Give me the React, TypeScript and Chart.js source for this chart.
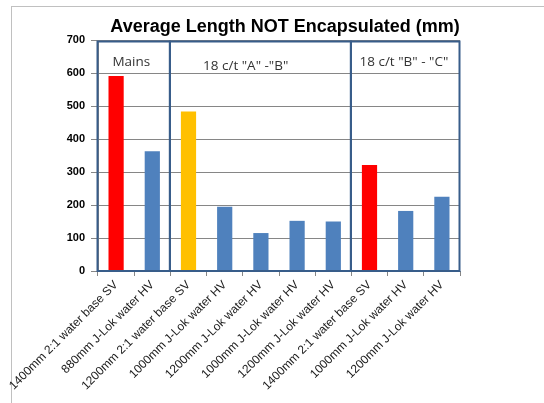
import React, { useEffect, useRef } from "react";
import { Chart, registerables } from "chart.js";
Chart.register(...registerables);

const chartTitle = "Average Length NOT Encapsulated (mm)";
const categories = [
  "1400mm 2:1 water base SV",
  "880mm J-Lok water HV",
  "1200mm 2:1 water base SV",
  "1000mm J-Lok water HV",
  "1200mm J-Lok water HV",
  "1000mm J-Lok water HV",
  "1200mm J-Lok water HV",
  "1400mm 2:1 water base SV",
  "1000mm J-Lok water HV",
  "1200mm J-Lok water HV",
];
const values = [591, 363, 483, 195, 115, 152, 150, 321, 182, 225];
const barColors = [
  "#FF0000", "#4F81BD", "#FFC000", "#4F81BD", "#4F81BD",
  "#4F81BD", "#4F81BD", "#FF0000", "#4F81BD", "#4F81BD",
];
const yMin = 0;
const yMax = 700;
const yStep = 100;
const groupLabels = ["Mains", "18 c/t \"A\" -\"B\"", "18 c/t \"B\" - \"C\""];
const groupFirst = [0, 2, 7];
const groupLast = [1, 6, 9];

const groupLabelAnchor = [
  { idx: 0.42, val: 633 },
  { idx: 3.58, val: 620 },
  { idx: 7.95, val: 633 },
];

const overlayPlugin = {
  id: "overlay",
  afterDatasetsDraw(chart: any) {
    const { ctx, scales, chartArea } = chart;
    const xs = scales.x;
    const ys = scales.y;
    const step = xs.getPixelForValue(1) - xs.getPixelForValue(0);
    ctx.save();
    ctx.strokeStyle = "#385D8A";
    ctx.lineWidth = 2;
    const top = chartArea.top + 1.5;
    const bottom = chartArea.bottom;
    for (let g = 0; g < groupFirst.length; g++) {
      const l = xs.getPixelForValue(groupFirst[g]) - step / 2 - 0.5;
      const r = xs.getPixelForValue(groupLast[g]) + step / 2 - 0.5;
      ctx.strokeRect(l, top, r - l, bottom - top);
    }
    ctx.fillStyle = "#333333";
    ctx.font = "13.5px 'Open Sans', 'Liberation Sans', sans-serif";
    ctx.textAlign = "center";
    ctx.textBaseline = "middle";
    groupLabels.forEach((t, i) => {
      const a = groupLabelAnchor[i];
      const x = xs.getPixelForValue(0) + a.idx * step;
      const y = ys.getPixelForValue(a.val);
      ctx.fillText(t, x, y);
    });
    ctx.restore();
  },
  afterDraw(chart: any) {
    const { ctx } = chart;
    ctx.save();
    ctx.fillStyle = "#000";
    ctx.font = "bold 18px 'Liberation Sans', Arial, sans-serif";
    ctx.textAlign = "center";
    ctx.textBaseline = "middle";
    ctx.fillText(chartTitle, 285, 27);
    ctx.restore();
  },
};

export default function App() {
  const ref = useRef<HTMLCanvasElement | null>(null);
  useEffect(() => {
    if (!ref.current) return;
    const chart = new Chart(ref.current, {
      type: "bar",
      data: {
        labels: categories,
        datasets: [
          {
            data: values,
            backgroundColor: barColors,
            barPercentage: 0.42,
            categoryPercentage: 1,
          },
        ],
      },
      options: {
        responsive: false,
        animation: false,
        devicePixelRatio: 1,
        layout: { padding: { left: 0, right: 84, top: 40, bottom: 0 } },
        plugins: {
          legend: { display: false },
          title: { display: false },
          tooltip: { enabled: false },
        },
        scales: {
          x: {
            grid: {
              display: true,
              drawOnChartArea: false,
              drawTicks: true,
              tickLength: 5,
              color: "#868686",
              offset: true,
            },
            border: { color: "#868686" },
            ticks: {
              minRotation: 45,
              maxRotation: 45,
              autoSkip: false,
              color: "#1a1a1a",
              padding: 2,
              font: { family: "'Liberation Sans', Arial, sans-serif", size: 12 },
            },
            afterFit: (s: any) => {
              s.height = 132;
            },
          },
          y: {
            min: yMin,
            max: yMax,
            ticks: {
              stepSize: yStep,
              color: "#000",
              padding: 6,
              font: { family: "'Liberation Sans', Arial, sans-serif", size: 11, weight: "bold" },
            },
            grid: { color: "#868686", tickLength: 7 },
            border: { color: "#868686" },
            afterFit: (s: any) => {
              s.width = 98;
            },
          },
        },
      },
      plugins: [overlayPlugin],
    });
    return () => chart.destroy();
  }, []);
  return (
    <div
      style={{
        position: "fixed",
        left: 0,
        top: 0,
        width: 544,
        height: 403,
        overflow: "hidden",
        background: "#fff",
      }}
    >
      <div
        style={{
          position: "absolute",
          left: 11,
          top: 6,
          width: 700,
          height: 600,
          border: "1px solid #c0c0c0",
        }}
      />
      <canvas
        ref={ref}
        width={544}
        height={403}
        style={{ position: "absolute", left: 0, top: 0, width: 544, height: 403 }}
      />
    </div>
  );
}
